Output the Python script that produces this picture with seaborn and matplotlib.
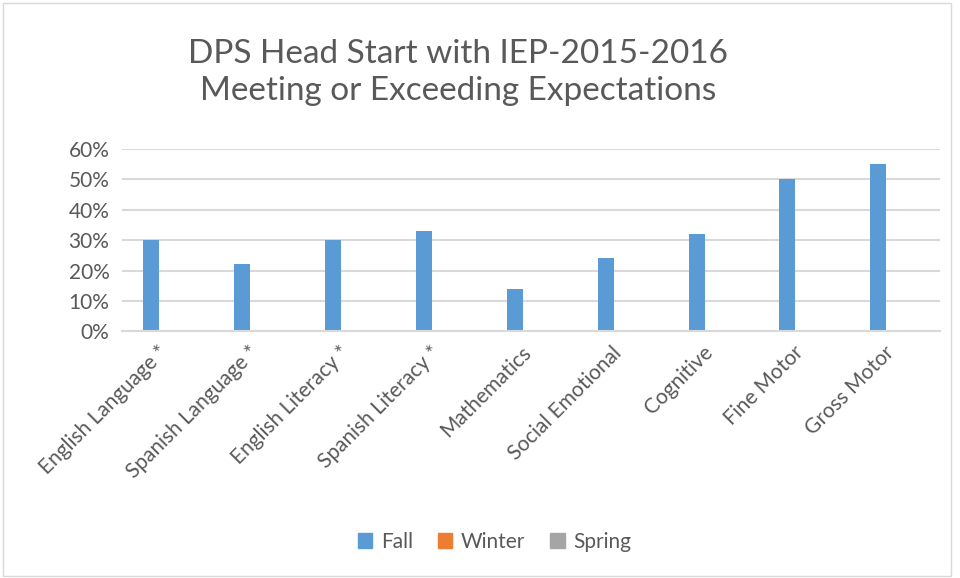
import pandas as pd
import matplotlib.pyplot as plt
import matplotlib.patches as mpatches
import matplotlib.transforms as mtransforms
import seaborn as sns
from matplotlib.ticker import PercentFormatter

# 数据
categories = ['English Language *', 'Spanish Language *', 'English Literacy *',
              'Spanish Literacy *', 'Mathematics', 'Social Emotional',
              'Cognitive', 'Fine Motor', 'Gross Motor']
fall = [0.30, 0.22, 0.30, 0.33, 0.14, 0.24, 0.32, 0.50, 0.55]
winter = [0] * len(categories)
spring = [0] * len(categories)
seasons = ['Fall', 'Winter', 'Spring']
colors = ['#5B9BD5', '#ED7D31', '#A5A5A5']

df = pd.DataFrame({
    'Domain': categories * 3,
    'Value': fall + winter + spring,
    'Season': ['Fall'] * 9 + ['Winter'] * 9 + ['Spring'] * 9,
})

sns.set_style('white')
plt.rcParams['font.family'] = ['Lato', 'DejaVu Sans']
txt = '#595959'

fig = plt.figure(figsize=(9.6, 5.78), dpi=100)
ax = fig.add_axes([0.127, 0.427, 0.852, 0.315])

sns.barplot(data=df, x='Domain', y='Value', hue='Season', hue_order=seasons,
            palette=colors, saturation=1, width=0.53, linewidth=0, ax=ax, legend=False)

ax.set_ylim(0, 0.6)
ax.set_yticks([0, 0.1, 0.2, 0.3, 0.4, 0.5, 0.6])
ax.yaxis.set_major_formatter(PercentFormatter(1.0, decimals=0))
ax.grid(axis='y', color='#D9D9D9', linewidth=1.5)
ax.set_axisbelow(True)
for s in ['top', 'right', 'left']:
    ax.spines[s].set_visible(False)
ax.spines['bottom'].set_color('#D9D9D9')
ax.spines['bottom'].set_linewidth(1.5)
ax.tick_params(axis='both', length=0, labelsize=15, labelcolor=txt)
ax.tick_params(axis='y', pad=9)
ax.tick_params(axis='x', pad=6)
ax.set_xlabel('')
ax.set_ylabel('')
# 斜放的类别标签，稍微往左下挪
shift = mtransforms.ScaledTranslation(-10 / 100, -3 / 100, fig.dpi_scale_trans)
for lab in ax.get_xticklabels():
    lab.set_rotation(45)
    lab.set_ha('right')
    lab.set_rotation_mode('anchor')
    lab.set_transform(lab.get_transform() + shift)

fig.text(0.477, 0.875, 'DPS Head Start with IEP-2015-2016\nMeeting or Exceeding Expectations',
         ha='center', va='center', fontsize=24, color=txt, linespacing=1.3)

handles = [mpatches.Patch(color=c, label=s) for s, c in zip(seasons, colors)]
fig.legend(handles=handles, loc='center', bbox_to_anchor=(0.515, 0.063), ncol=3,
           frameon=False, fontsize=15, labelcolor=txt, handlelength=0.7,
           handleheight=0.7, columnspacing=1.2, handletextpad=0.4)

# 外边框
fig.add_artist(mpatches.Rectangle((0.003, 0.004), 0.988, 0.99, transform=fig.transFigure,
                                  fill=False, edgecolor='#D9D9D9', linewidth=1))

fig.savefig('out.png', dpi=100)
